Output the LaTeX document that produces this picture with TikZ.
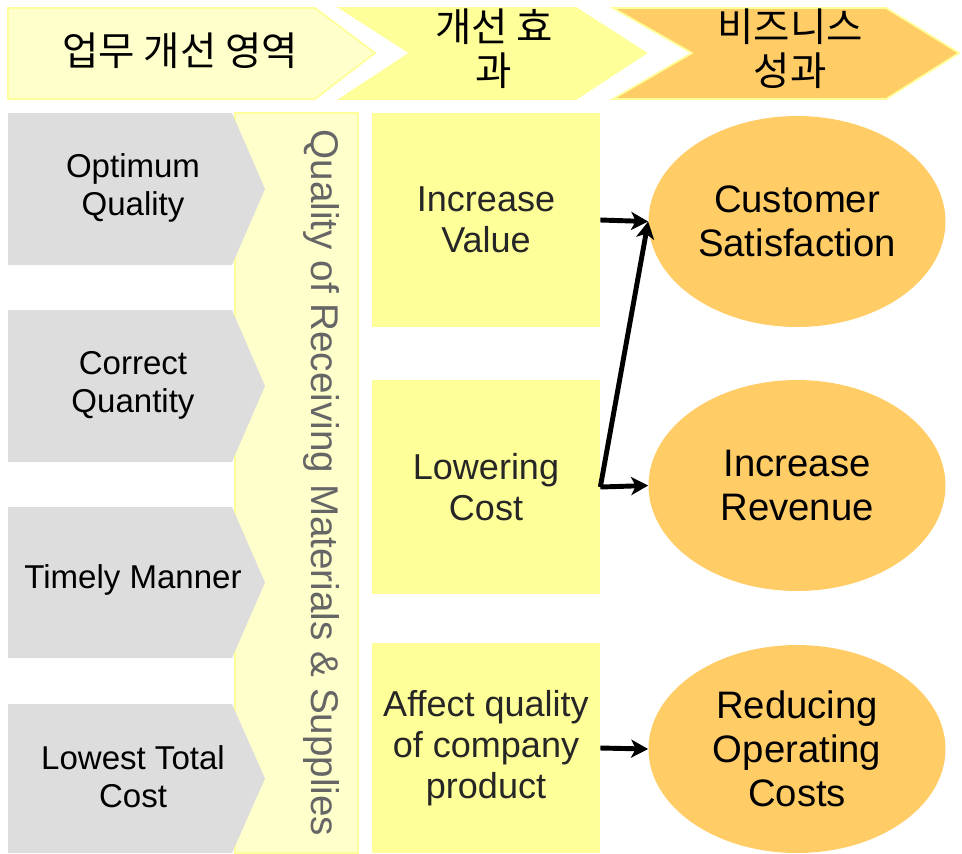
\documentclass[tikz,border=0pt]{standalone}
\usepackage{fontspec}
\setmainfont{Liberation Sans}
\newfontfamily\kr{Noto Sans CJK KR}
\usetikzlibrary{shapes.geometric,arrows.meta}
\definecolor{paleyel}{HTML}{FFFFCC}
\definecolor{yel}{HTML}{FFFF99}
\definecolor{orng}{HTML}{FFCC66}
\definecolor{grayfill}{HTML}{DDDDDD}
\definecolor{vtext}{HTML}{666666}
\tikzset{
  hdrtext/.style={align=center, inner sep=0pt, font=\kr\fontsize{22.5}{25}\selectfont},
  graytext/.style={align=center, inner sep=0pt, font=\fontsize{18.8}{21.6}\selectfont},
  ybox/.style={rectangle, fill=yel, minimum width=4.56cm, minimum height=4.28cm, align=center, inner sep=0pt, text=black!85, font=\fontsize{20.5}{23.5}\selectfont},
  goal/.style={ellipse, fill=orng, minimum width=5.94cm, minimum height=4.22cm, inner sep=0pt, align=center, font=\fontsize{21.8}{25}\selectfont},
  conn/.style={line width=2.8pt, -{Stealth[length=0.34cm, width=0.36cm, inset=0.09cm]}}
}
\begin{document}
\begin{tikzpicture}[x=0.02cm, y=-0.02cm]
\useasboundingbox (0,0) rectangle (962,853);
% header chevrons
\draw[yel, fill=paleyel, line width=1pt] (8,8) -- (315,8) -- (375,53) -- (315,99) -- (8,99) -- cycle;
\draw[yel, fill=yel, line width=1pt] (340,8) -- (576,8) -- (646,53) -- (576,99) -- (340,99) -- (410,53) -- cycle;
\draw[yel, fill=orng, line width=1pt] (613,8) -- (886,8) -- (959,53) -- (886,99) -- (613,99) -- (692,53) -- cycle;
\node[hdrtext] (h1) at (180,51) {업무 개선 영역};
\node[hdrtext] (h2) at (494,49) {개선 효\\과};
\node[hdrtext] (h3) at (790,49) {비즈니스\\성과};
% band
\draw[yel, fill=paleyel, line width=0.8pt] (235,113) rectangle (358,853);
\node[rotate=-90, text=vtext, inner sep=0pt, font=\fontsize{22}{26}\selectfont] (band) at (321,483) {Quality of Receiving Materials \& Supplies};
% gray pentagons
\foreach \t/\b in {113/265, 310/462, 507/658, 704/853}{
  \fill[grayfill] (8,\t) -- (232,\t) -- (265,{(\t+\b)/2}) -- (232,\b) -- (8,\b) -- cycle;
}
\node[graytext] (g1) at (133,188) {Optimum\\Quality};
\node[graytext] (g2) at (133,385) {Correct\\Quantity};
\node[graytext] (g3) at (133,580) {Timely Manner};
\node[graytext] (g4) at (133,777) {Lowest Total\\Cost};
% yellow boxes
\node[ybox] (b1) at (486,220) {Increase\\Value};
\node[ybox] (b2) at (486,487) {Lowering\\Cost};
\node[ybox, minimum height=4.2cm] (b3) at (486,748) {Affect quality\\of company\\product};
% ellipses
\node[goal] (e1) at (797,221.5) {Customer\\Satisfaction};
\node[goal] (e2) at (797,485.5) {Increase\\Revenue};
\node[goal, minimum height=4.16cm] (e3) at (797,749) {Reducing\\Operating\\Costs};
% connectors
\draw[conn] (b1.east) -- (e1.west);
\draw[conn] (b2.east) -- (e2.west);
\draw[conn] (b2.east) -- (e1.west);
\draw[conn] (b3.east) -- (e3.west);
\end{tikzpicture}
\end{document}
